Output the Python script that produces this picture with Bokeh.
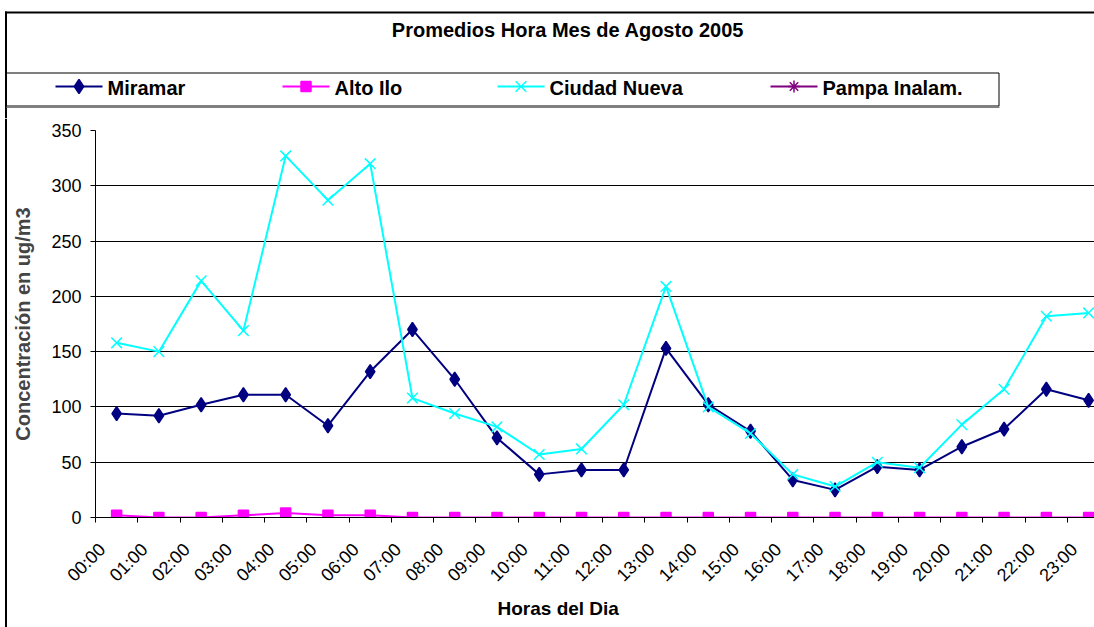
from bokeh.plotting import figure
from bokeh.models import ColumnDataSource, Range1d, FixedTicker, Title
from bokeh.layouts import column, row
from bokeh.embed import file_html
from bokeh.resources import INLINE

# ---- data ----
hours = ["00:00", "01:00", "02:00", "03:00", "04:00", "05:00", "06:00", "07:00",
         "08:00", "09:00", "10:00", "11:00", "12:00", "13:00", "14:00", "15:00",
         "16:00", "17:00", "18:00", "19:00", "20:00", "21:00", "22:00", "23:00"]
miramar = [94, 92, 102, 111, 111, 83, 132, 170, 125, 72, 39, 43, 43, 153, 102, 78,
           34, 25, 46, 43, 64, 80, 116, 106]
alto_ilo = [2, 0, 0, 2, 4, 2, 2, 0, 0, 0, 0, 0, 0, 0, 0, 0, 0, 0, 0, 0, 0, 0, 0, 0]
ciudad_nueva = [158, 150, 214, 169, 327, 287, 320, 108, 94, 82, 57, 62, 102, 209, 100, 76,
                39, 28, 50, 45, 84, 116, 182, 185]
pampa_inalam = []  # no values plotted in the original

series_names = ["Miramar", "Alto Ilo", "Ciudad Nueva", "Pampa Inalam."]
y_ticks = [0, 50, 100, 150, 200, 250, 300, 350]
chart_title = "Promedios Hora Mes de Agosto 2005"
x_title = "Horas del Dia"
y_title = "Concentración en ug/m3"

FONT = "Liberation Sans"
colors = ["#000080", "#FF00FF", "#00FFFF", "#800080"]
markers = ["diamond", "square", "x", "asterisk"]
sizes = [14, 10, 15, 12]

PAGE_W, PAGE_H = 1094, 627
HEAD_H = 118          # header (title + legend) height
STRIP_W = 8           # left strip carrying the chart border
MAIN_W = PAGE_W - STRIP_W
MAIN_H = PAGE_H - HEAD_H
FRAME_LEFT, FRAME_TOP, FRAME_BOTTOM = 95, 130, 517   # page px of the plot frame
FL = FRAME_LEFT - STRIP_W
FT = FRAME_TOP - HEAD_H
FB = PAGE_H - FRAME_BOTTOM

def bare(fig):
    fig.xaxis.visible = False
    fig.yaxis.visible = False
    fig.xgrid.grid_line_color = None
    fig.ygrid.grid_line_color = None
    fig.outline_line_color = None
    fig.border_fill_color = "white"
    fig.background_fill_color = "white"
    fig.frame_align = False
    return fig

# ---------------- header: title + legend (y measured upward from header bottom) ----------------
head = bare(figure(width=PAGE_W, height=HEAD_H, output_backend="svg", toolbar_location=None,
                   x_range=Range1d(0, PAGE_W), y_range=Range1d(0, HEAD_H),
                   min_border=0, min_border_left=0, min_border_right=0,
                   min_border_top=0, min_border_bottom=0))

def hy(page_y):
    return HEAD_H - page_y

# chart border: top edge and left edge (filled bars)
head.quad(left=[4.5, 4.5], right=[PAGE_W, 6.5], top=[hy(11), hy(11)], bottom=[hy(13), 0],
          fill_color="black", line_color=None)
# legend box with its shadow
head.quad(left=[5.5], right=[998.5], top=[hy(72.5)], bottom=[hy(105.5)], fill_alpha=0,
          line_color="black", line_width=1)
head.quad(left=[6], right=[999], top=[hy(106)], bottom=[hy(107.5)], fill_color="#808080",
          line_color=None)
head.text(x=[567.5], y=[hy(29)], text=[chart_title], text_font={"value": FONT},
          text_font_size="20px", text_font_style="bold", text_align="center",
          text_baseline="middle", text_color="black")
leg_x = [55, 282, 497, 770]
leg_y = hy(86)
for name, col, mk, sz, lx in zip(series_names, colors, markers, sizes, leg_x):
    head.line(x=[lx, lx + 47], y=[leg_y, leg_y], line_color=col, line_width=2)
    head.scatter(x=[lx + 23.5], y=[leg_y], marker=mk, size=sz, fill_color=col,
                 line_color=col, line_width=1.5)
    head.text(x=[lx + 52], y=[leg_y - 1], text=[name], text_font={"value": FONT},
              text_font_size="20px", text_font_style="bold", text_align="left",
              text_baseline="middle", text_color="black")

# ---------------- left strip: chart border ----------------
strip = bare(figure(width=STRIP_W, height=MAIN_H, output_backend="svg", toolbar_location=None,
                    x_range=Range1d(0, STRIP_W), y_range=Range1d(0, MAIN_H),
                    min_border=0, min_border_left=0, min_border_right=0,
                    min_border_top=0, min_border_bottom=0))
strip.quad(left=[4.5], right=[6.5], bottom=[0], top=[MAIN_H], fill_color="black",
           line_color=None)

# ---------------- main plot ----------------
n = len(hours)
xs = list(range(n))
spacing = 42.26
x_end = -0.5 + (PAGE_W - FRAME_LEFT) / spacing

p = figure(width=MAIN_W, height=MAIN_H, output_backend="svg", toolbar_location=None,
           x_range=Range1d(-0.5, x_end), y_range=Range1d(0, y_ticks[-1]),
           min_border_left=FL, min_border_right=0, min_border_top=FT, min_border_bottom=FB)
p.frame_align = False
p.outline_line_color = None
p.background_fill_color = "white"
p.border_fill_color = "white"

shift = 0.34
label_pos = [i - shift for i in xs]
p.xaxis.ticker = FixedTicker(ticks=label_pos, minor_ticks=[i - 0.5 for i in range(n + 1)])
p.xaxis.major_label_overrides = {pos: h for pos, h in zip(label_pos, hours)}
p.xaxis.major_label_orientation = 0.785398
p.xaxis.major_tick_out = 0
p.xaxis.major_tick_in = 0
p.xaxis.minor_tick_out = 5
p.xaxis.minor_tick_in = 0
p.xaxis.minor_tick_line_color = "black"
p.xaxis.axis_line_color = "black"
p.xaxis.major_label_text_font = FONT
p.xaxis.major_label_text_font_size = "18px"
p.xaxis.major_label_text_color = "black"
p.xaxis.major_label_standoff = 24

p.yaxis.ticker = FixedTicker(ticks=y_ticks)
p.yaxis.major_tick_out = 5
p.yaxis.major_tick_in = 0
p.yaxis.minor_tick_out = 0
p.yaxis.axis_line_color = "black"
p.yaxis.major_tick_line_color = "black"
p.yaxis.major_label_text_font = FONT
p.yaxis.major_label_text_font_size = "18px"
p.yaxis.major_label_text_color = "black"
p.yaxis.major_label_standoff = 9
p.yaxis.axis_label = y_title
p.yaxis.axis_label_text_font = FONT
p.yaxis.axis_label_text_font_size = "20px"
p.yaxis.axis_label_text_font_style = "bold"
p.yaxis.axis_label_standoff = 14

p.xgrid.grid_line_color = None
p.ygrid.ticker = FixedTicker(ticks=y_ticks[1:-1])
p.ygrid.grid_line_color = "black"
p.ygrid.grid_line_width = 1

p.add_layout(Title(text=x_title, align="left", offset=497 - FRAME_LEFT, standoff=0,
                   text_font=FONT, text_font_size="19px", text_font_style="bold",
                   text_color="black"), "below")

data = [miramar, alto_ilo, ciudad_nueva, pampa_inalam]
for name, vals, col, mk, sz in zip(series_names, data, colors, markers, sizes):
    src = ColumnDataSource(dict(x=xs[:len(vals)], y=vals))
    p.line("x", "y", source=src, line_color=col, line_width=2)
    p.scatter("x", "y", source=src, marker=mk, size=sz, fill_color=col,
              line_color=col, line_width=1.5)

layout = column(head, row(strip, p, spacing=0), spacing=0)
open("out.html", "w").write(file_html(layout, INLINE))
